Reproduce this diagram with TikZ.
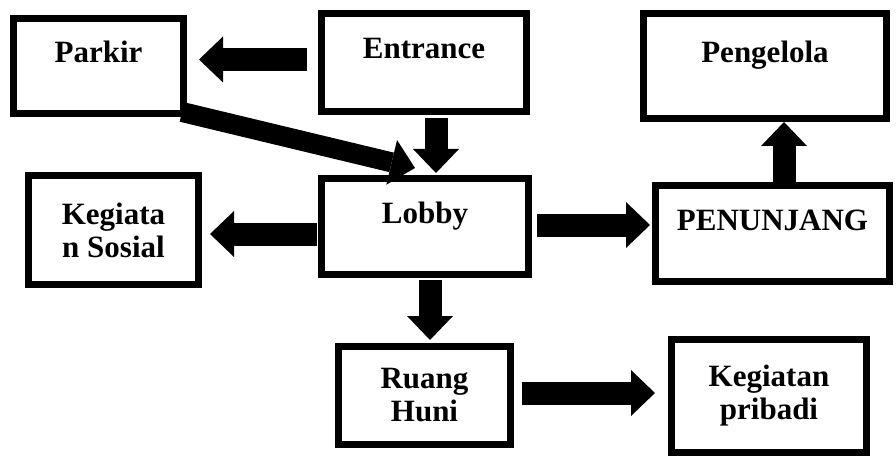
\documentclass[tikz,border=0pt]{standalone}
\usepackage{fontspec}
\setmainfont{Liberation Serif}
\usetikzlibrary{arrows.meta}
\begin{document}
\begin{tikzpicture}[x=1pt,y=-1pt,
    room/.style={draw, line width=7pt, align=center,
      font=\bfseries\fontsize{31}{33}\selectfont},
    upper/.style={text height=22pt, text depth=29pt},
    flow/.style={draw, line width=23pt,
      -{Triangle[length=24pt,width=46pt,line width=0pt]}}]
  \useasboundingbox (0,0) rectangle (896,457);
  \node[room, upper, minimum width=170pt, minimum height=95pt] (parkir) at (98.5,66) {Parkir};
  \node[room, upper, minimum width=205pt, minimum height=98pt] (entrance) at (424,62.5) {Entrance};
  \node[room, upper, minimum width=243pt, minimum height=105pt] (pengelola) at (765,66) {Pengelola};
  \node[room, upper, minimum width=207pt, minimum height=96pt] (lobby) at (425,226.5) {Lobby};
  \node[room, minimum width=170pt, minimum height=109pt] (sosial) at (113.5,230) {Kegiata\\n Sosial};
  \node[room, upper, minimum width=234pt, minimum height=96pt] (penunjang) at (772.5,233.5) {PENUNJANG};
  \node[room, minimum width=172pt, minimum height=98pt] (huni) at (424.5,395.5) {Ruang\\Huni};
  \node[room, minimum width=195pt, minimum height=113pt] (pribadi) at (769,396) {Kegiatan\\pribadi};
  \draw[flow, shorten <=11pt, shorten >=12pt] ([yshift=3pt]entrance.west) -- ([yshift=6.5pt]parkir.east);
  \draw[flow, shorten <=3pt, shorten >=2pt] ([xshift=12pt]entrance.south) -- ([xshift=11pt]lobby.north);
  \draw[flow, line width=20pt] ([shift={(-5,-5)}]parkir.south east) -- ([shift={(97,-7)}]lobby.north west);
  \draw[flow, shorten <=1pt, shorten >=8pt] ([yshift=-7.5pt]lobby.west) -- ([yshift=-4pt]sosial.east);
  \draw[flow, shorten <=5pt, shorten >=2pt] ([yshift=1.5pt]lobby.east) -- ([yshift=8.5pt]penunjang.west);
  \draw[flow] ([xshift=11.5pt]penunjang.north) -- ([xshift=19pt]pengelola.south);
  \draw[flow, shorten <=2pt, shorten >=3pt] ([xshift=5pt]lobby.south) -- ([xshift=5.5pt]huni.north);
  \draw[flow, shorten <=8pt, shorten >=13pt] ([yshift=2.5pt]huni.east) -- ([yshift=3pt]pribadi.west);
\end{tikzpicture}
\end{document}
